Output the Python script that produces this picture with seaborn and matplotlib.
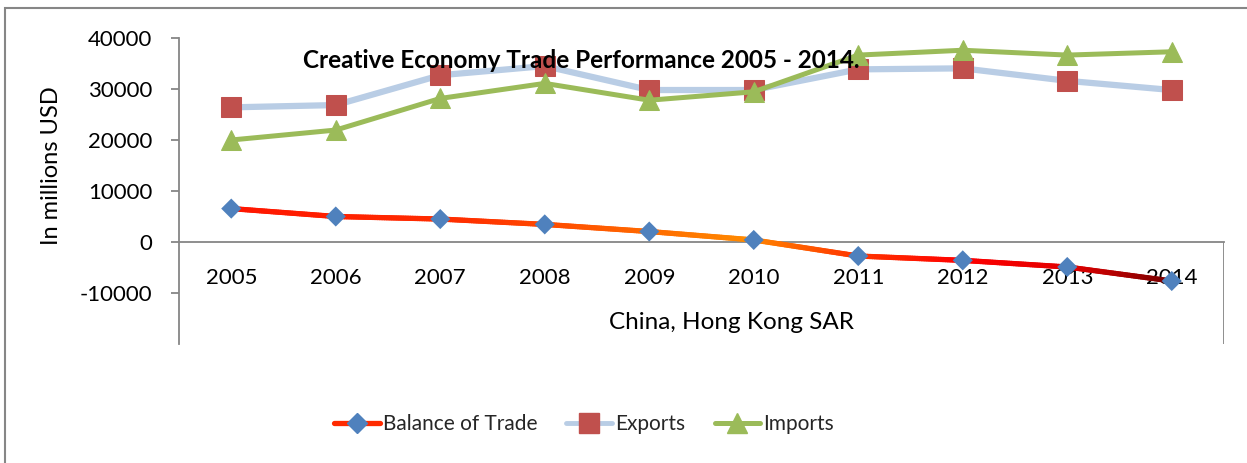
import numpy as np
import pandas as pd
import matplotlib
matplotlib.use("Agg")
import matplotlib.pyplot as plt
import seaborn as sns
from matplotlib.collections import LineCollection
from matplotlib.colors import LinearSegmentedColormap
from matplotlib.lines import Line2D
from matplotlib.patches import Rectangle

# Creative goods trade, China, Hong Kong SAR (millions USD)
years = ["2005", "2006", "2007", "2008", "2009", "2010", "2011", "2012", "2013", "2014"]
balance = [6550, 5000, 4500, 3450, 2050, 400, -2750, -3600, -4900, -7650]
exports = [26400, 26850, 32700, 34500, 29800, 29800, 33850, 34050, 31600, 29800]
imports = [20000, 21950, 28150, 31100, 27800, 29450, 36650, 37600, 36650, 37300]
yticks = [-10000, 0, 10000, 20000, 30000, 40000]

sns.set_theme(style="white")
plt.rcParams["font.family"] = ["Lato", "DejaVu Sans"]

df = pd.DataFrame({"year": years, "Balance of Trade": balance,
                   "Exports": exports, "Imports": imports})
df["pos"] = np.arange(len(years))

fig = plt.figure(figsize=(12.47, 4.63), dpi=100)
ax = fig.add_axes([179 / 1247, 1 - 344 / 463, 1045 / 1247, 306 / 463])

GRAY = "#868686"
BLUE_D = "#4F81BD"
RED_S = "#C0504D"
LIGHT_BLUE = "#B9CDE5"
GREEN = "#9BBB59"

# Balance of trade: gradient-coloured line built from the data points
grad = LinearSegmentedColormap.from_list(
    "bal", [(0.0, "#FF1500"), (0.25, "#FF3000"), (0.55, "#FF8A00"),
            (0.65, "#FF4000"), (0.78, "#FF0000"), (0.9, "#E00000"),
            (1.0, "#7A0000")])
xs, ys = df["pos"].to_numpy(float), df["Balance of Trade"].to_numpy(float)
fine_x = np.linspace(xs[0], xs[-1], 400)
fine_y = np.interp(fine_x, xs, ys)
pts = np.column_stack([fine_x, fine_y]).reshape(-1, 1, 2)
segs = np.concatenate([pts[:-1], pts[1:]], axis=1)
lc = LineCollection(segs, colors=grad(np.linspace(0, 1, len(segs))),
                    linewidths=3.8, capstyle="round", zorder=3)
ax.add_collection(lc)
sns.scatterplot(data=df, x="pos", y="Balance of Trade", marker="D", s=105,
                color=BLUE_D, edgecolor="none", ax=ax, zorder=4, legend=False)

# Exports
sns.lineplot(data=df, x="pos", y="Exports", color=LIGHT_BLUE, lw=4.5,
             marker="s", markersize=14, markerfacecolor=RED_S,
             markeredgecolor=RED_S, ax=ax, zorder=5, legend=False)
# Imports
sns.lineplot(data=df, x="pos", y="Imports", color=GREEN, lw=3.6,
             marker="^", markersize=15, markerfacecolor=GREEN,
             markeredgecolor=GREEN, ax=ax, zorder=6, legend=False)

ax.set_xlim(-0.5, len(years) - 0.5)
ax.set_ylim(-20000, 40000)

# Axes frame: value axis on the left, category axis crossing at zero
for side in ["top", "right"]:
    ax.spines[side].set_visible(False)
ax.spines["left"].set_color(GRAY)
ax.spines["left"].set_linewidth(1.3)
ax.spines["bottom"].set_position(("data", 0))
ax.spines["bottom"].set_color(GRAY)
ax.spines["bottom"].set_linewidth(1.3)
ax.vlines(ax.get_xlim()[1], -20000, 0, color=GRAY, lw=1.3, zorder=1)

ax.set_yticks(yticks)
ax.set_yticklabels([str(v) for v in yticks])
ax.tick_params(axis="y", direction="out", length=6, width=1.3, color=GRAY,
               pad=13, labelsize=16, labelcolor="black", left=True)
ax.set_xticks(df["pos"])
ax.set_xticklabels(years)
ax.tick_params(axis="x", length=0, pad=19, labelsize=16, labelcolor="black")

ax.set_ylabel("In millions USD", fontsize=17, color="black")
ax.yaxis.set_label_coords(-0.112, 0.583)
ax.set_xlabel("China, Hong Kong SAR", fontsize=17.5, color="black")
ax.xaxis.set_label_coords(0.529, 0.105)

ax.text(0.385, 0.927, "Creative Economy Trade Performance 2005 - 2014.",
        transform=ax.transAxes, ha="center", va="center", fontsize=17.5,
        fontweight="bold", color="black", zorder=10)

handles = [
    Line2D([], [], color="#FF2A00", lw=3.8, marker="D", markersize=10,
           markerfacecolor=BLUE_D, markeredgecolor=BLUE_D),
    Line2D([], [], color=LIGHT_BLUE, lw=3.5, marker="s", markersize=14,
           markerfacecolor=RED_S, markeredgecolor=RED_S),
    Line2D([], [], color=GREEN, lw=3.6, marker="^", markersize=15,
           markerfacecolor=GREEN, markeredgecolor=GREEN),
]
fig.legend(handles, ["Balance of Trade", "Exports", "Imports"],
           loc="center", bbox_to_anchor=(584 / 1247, 1 - 424 / 463),
           ncol=3, frameon=False, fontsize=15, handlelength=2.2,
           handletextpad=0.15, columnspacing=1.4)

# Chart border
fig.patches.append(Rectangle((5 / 1247, -0.05), 1.2, 1 - 8 / 463 + 0.05,
                             transform=fig.transFigure, fill=False,
                             edgecolor=GRAY, lw=1.5))

fig.savefig("out.png", dpi=100)
